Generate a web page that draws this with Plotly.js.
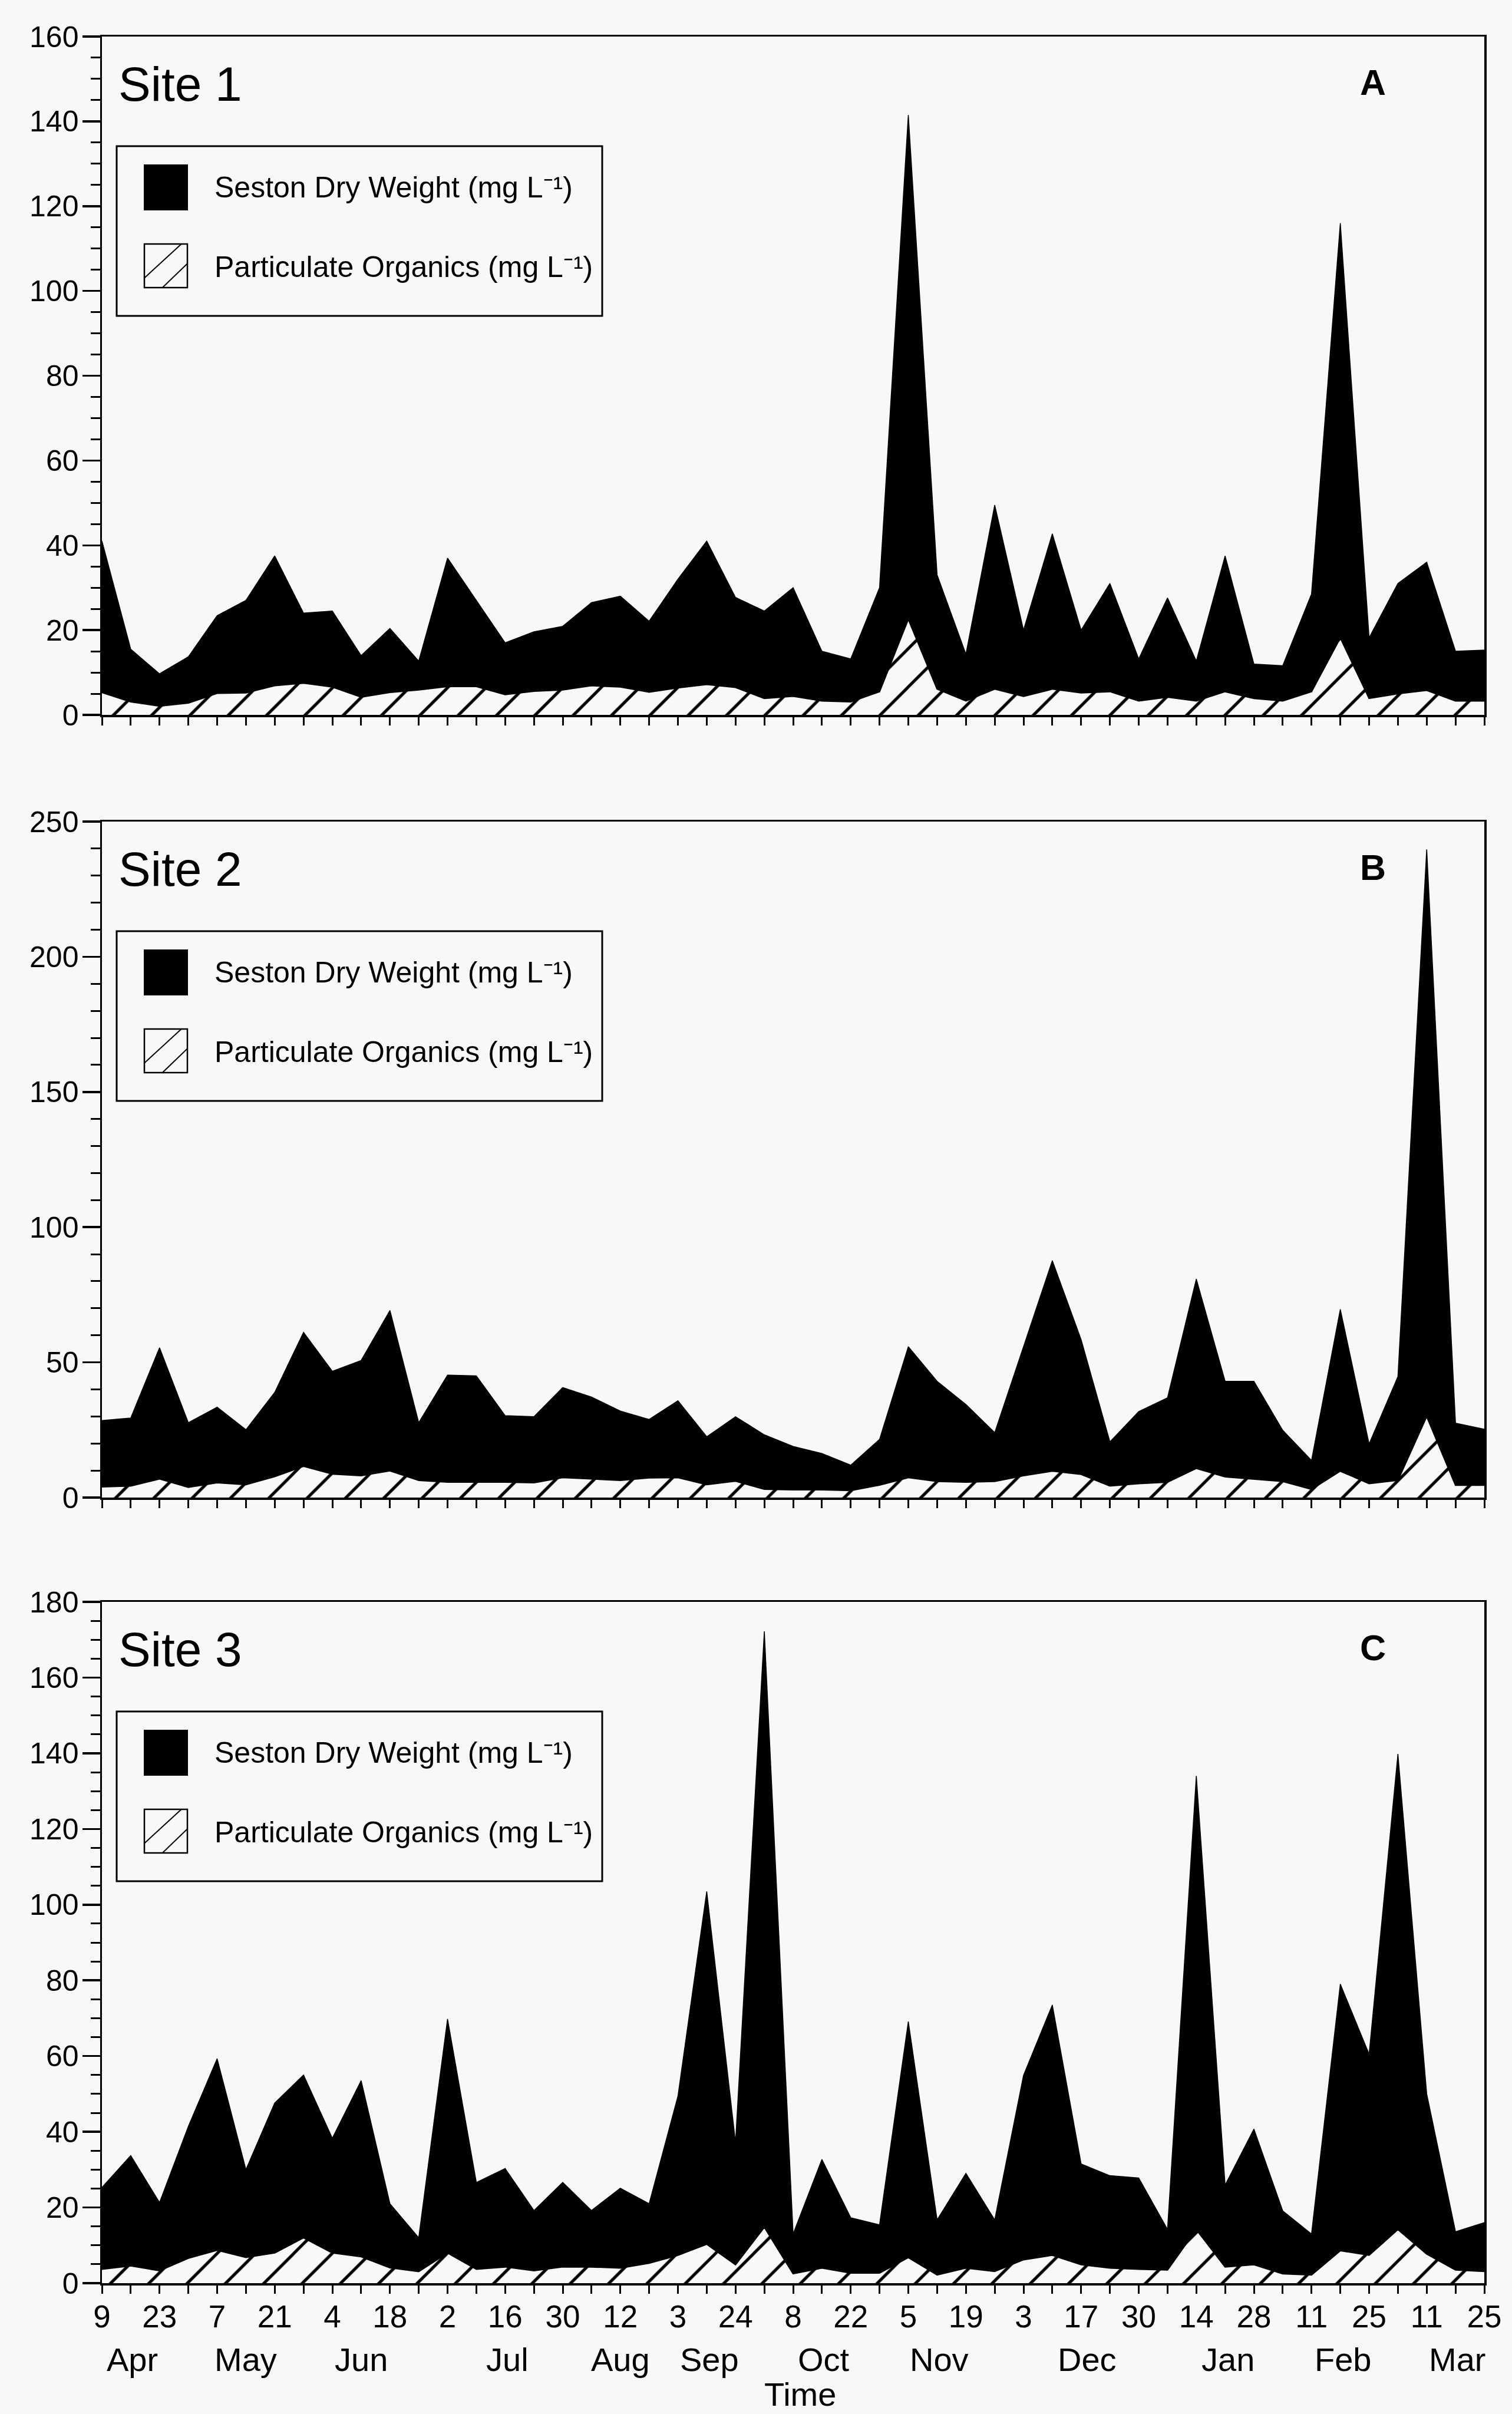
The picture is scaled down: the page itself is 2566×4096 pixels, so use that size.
<!DOCTYPE html>
<html>
<head>
<meta charset="utf-8">
<script src="https://cdn.plot.ly/plotly-3.0.1.min.js"></script>
<style>html,body{margin:0;padding:0;background:#f8f8f6;}</style>
</head>
<body>
<div id="chart" style="width:2566px;height:4096px;"></div>
<script>
// ---- data ----
const dayLabels = ['9','23','7','21','4','18','2','16','30','12','3','24','8','22','5','19','3','17','30','14','28','11','25','11','25'];
const monthLabels = ['Apr','May','Jun','Jul','Aug','Sep','Oct','Nov','Dec','Jan','Feb','Mar'];
const monthIdx = [1.05, 5.0, 9.0, 14.07, 18.0, 21.1, 25.07, 29.07, 34.2, 39.1, 43.1, 47.05];

const sestonSite1 = [41, 15.5, 9.7, 13.7, 23.4, 27, 37.5, 24, 24.5, 14, 20.4, 12.7, 37, 27, 17, 19.6, 20.9, 26.5, 28, 22.1, 32, 41, 27.7, 24.5, 30, 15, 13.2, 30, 141.5, 33, 14.3, 49.5, 20, 42.7, 20, 31, 13.2, 27.6, 12.7, 37.5, 12, 11.6, 28.5, 116, 18.2, 31, 36, 15, 15.3];
const organicsSite1 = [5.3, 3.1, 2.1, 2.8, 5.1, 5.2, 6.9, 7.5, 6.6, 4.2, 5.3, 5.9, 6.7, 6.7, 4.8, 5.6, 5.9, 6.9, 6.6, 5.4, 6.4, 7.2, 6.5, 3.9, 4.4, 3.3, 3.1, 5.5, 22.6, 6.1, 3.3, 6.1, 4.4, 6.1, 5.2, 5.5, 3.3, 4.2, 3.3, 5.5, 3.9, 3.3, 5.5, 18.2, 3.9, 5.0, 5.8, 3.3, 3.3];

const sestonSite2 = [28.5, 29.4, 55.4, 27.7, 33.4, 25.1, 38.9, 61.1, 46.7, 50.7, 69.2, 27.7, 45.3, 45, 30.3, 29.9, 40.7, 37.2, 32, 28.9, 35.8, 22.5, 29.9, 23.2, 18.9, 16.3, 12, 21.5, 55.8, 43, 34.4, 24, 55.8, 87.6, 58.4, 20.6, 31.8, 36.9, 80.8, 43, 43, 24.9, 13.7, 69.6, 19.8, 44.7, 239.7, 27.5, 25.3];
const organicsSite2 = [4, 4.3, 6.9, 3.8, 5.5, 4.8, 7.8, 11.6, 8.7, 8.1, 9.9, 6.4, 5.7, 5.7, 5.7, 5.5, 7.4, 6.9, 6.4, 7.3, 7.4, 4.8, 6.1, 3.1, 2.9, 2.9, 2.6, 4.6, 7.4, 6, 5.7, 6, 8.1, 9.8, 8.6, 4.3, 5.2, 5.7, 10.8, 7.7, 6.9, 6, 3.1, 9.8, 5.2, 6.4, 30, 4.6, 4.6];

const sestonSite3 = [25.3, 33.7, 21.3, 41.4, 59.3, 30, 47.6, 55, 38.3, 53.5, 21, 12, 69.8, 26.6, 30.3, 19.2, 26.6, 19.2, 25.1, 21, 49.4, 103.5, 37.1, 172.2, 13, 32.7, 17.3, 15.4, 69.1, 16.7, 29, 16.7, 54.9, 73.5, 31.5, 28.4, 27.8, 14.2, 134, 25.9, 40.7, 19.1, 13, 79, 60.5, 139.8, 50, 13.6, 16];
const organicsSite3 = [3.7, 4.6, 3.3, 6.6, 8.7, 6.8, 8, 12, 8, 7, 4.1, 3.1, 8, 3.7, 4.3, 3.3, 4.3, 4.3, 4, 5.3, 7.4, 10.3, 4.9, 14.8, 2.5, 4, 2.7, 2.7, 6.8, 2.2, 4, 3.1, 6.2, 7.4, 4.9, 4, 3.7, 3.5, 14.2, 4.3, 4.9, 2.5, 2.2, 8.6, 7.4, 14.2, 7.7, 3.5, 3.1];

const siteNames = ['Site 1', 'Site 2', 'Site 3'];
const panelLetters = ['A', 'B', 'C'];
const seriesNames = ['Seston Dry Weight (mg L\u207B\u00B9)', 'Particulate Organics (mg L\u207B\u00B9)'];
const yMax = [160, 250, 180];
const yMajor = [20, 50, 20];
const yMinor = [5, 10, 5];

// ---- layout geometry (pixels) ----
const W = 2566, H = 4096;
const BG = '#f8f8f6';
const FONT = '"Liberation Sans", Arial, Helvetica, sans-serif';
const plotLeft = 173, plotRight = 2519;
const panelTop = [62, 1394, 2718];
const panelBottom = [1213, 2541, 3874];
const px = v => v / W;
const py = v => 1 - v / H;

const sesAll = [sestonSite1, sestonSite2, sestonSite3];
const orgAll = [organicsSite1, organicsSite2, organicsSite3];
const idx = sestonSite1.map((_, i) => i);
const labelIdx = dayLabels.map((_, j) => 2 * j);

const traces = [];
const layout = {
  width: W, height: H,
  margin: {l: 0, r: 0, t: 0, b: 0},
  paper_bgcolor: BG, plot_bgcolor: BG,
  showlegend: false,
  font: {family: FONT, color: 'black'},
  shapes: [], annotations: []
};

for (let k = 0; k < 3; k++) {
  const sfx = k === 0 ? '' : String(k + 1);
  const xa = 'x' + sfx, ya = 'y' + sfx;
  traces.push({
    x: idx, y: sesAll[k], xaxis: xa, yaxis: ya, type: 'scatter', mode: 'lines',
    name: seriesNames[0], fill: 'tozeroy', fillcolor: 'black',
    line: {color: 'black', width: 1.5}, hoverinfo: 'x+y'
  });
  traces.push({
    x: idx, y: orgAll[k], xaxis: xa, yaxis: ya, type: 'scatter', mode: 'lines',
    name: seriesNames[1], fill: 'tozeroy', fillcolor: BG,
    fillpattern: {shape: '/', bgcolor: BG, fgcolor: 'black', size: 46, solidity: 0.11, fillmode: 'replace'},
    line: {color: 'black', width: 2.5}, hoverinfo: 'x+y'
  });

  layout['xaxis' + sfx] = {
    domain: [px(plotLeft), px(plotRight)], anchor: ya, range: [0, idx.length - 1],
    showline: true, linecolor: 'black', linewidth: 3.5, mirror: true,
    ticks: 'outside', ticklen: 14, tickwidth: 3, tickcolor: 'black',
    tickmode: 'array', tickvals: labelIdx, ticktext: dayLabels,
    minor: {ticks: 'outside', tickmode: 'linear', tick0: 0, dtick: 1, ticklen: 14, tickwidth: 3, tickcolor: 'black', showgrid: false},
    showticklabels: k === 2, tickfont: {family: FONT, size: 53, color: 'black'},
    ticklabelstandoff: -6,
    showgrid: false, zeroline: false, fixedrange: true
  };
  layout['yaxis' + sfx] = {
    domain: [py(panelBottom[k]), py(panelTop[k])], anchor: xa, range: [0, yMax[k]],
    showline: true, linecolor: 'black', linewidth: 3.5, mirror: true,
    ticks: 'outside', ticklen: 30, tickwidth: 3.5, tickcolor: 'black',
    tick0: 0, dtick: yMajor[k],
    minor: {ticks: 'outside', dtick: yMinor[k], tick0: 0, ticklen: 16, tickwidth: 3, tickcolor: 'black', showgrid: false},
    tickfont: {family: FONT, size: 50, color: 'black'},
    ticklabelstandoff: -4,
    showgrid: false, zeroline: false, fixedrange: true
  };

  const T = panelTop[k];
  // site title and panel letter
  layout.annotations.push({
    xref: 'paper', yref: 'paper', x: px(199), y: py(T + 80), xanchor: 'left', yanchor: 'middle',
    text: siteNames[k], showarrow: false, font: {family: FONT, size: 82, color: 'black'}
  });
  layout.annotations.push({
    xref: 'paper', yref: 'paper', x: px(2330), y: py(T + 78), xanchor: 'center', yanchor: 'middle',
    text: '<b>' + panelLetters[k] + '</b>', showarrow: false, font: {family: FONT, size: 61, color: 'black'}
  });
  // legend box
  layout.shapes.push({type: 'rect', xref: 'paper', yref: 'paper',
    x0: px(198), x1: px(1022), y0: py(T + 474), y1: py(T + 186),
    line: {color: 'black', width: 3}, fillcolor: 'rgba(0,0,0,0)', layer: 'above'});
  // black swatch
  layout.shapes.push({type: 'rect', xref: 'paper', yref: 'paper',
    x0: px(245), x1: px(318), y0: py(T + 294), y1: py(T + 218),
    line: {color: 'black', width: 2}, fillcolor: 'black', layer: 'above'});
  // hatched swatch
  const hx0 = 245, hx1 = 318, hy0 = T + 352, hy1 = T + 426;
  layout.shapes.push({type: 'rect', xref: 'paper', yref: 'paper',
    x0: px(hx0), x1: px(hx1), y0: py(hy1), y1: py(hy0),
    line: {color: 'black', width: 2.5}, fillcolor: BG, layer: 'above'});
  layout.shapes.push({type: 'line', xref: 'paper', yref: 'paper',
    x0: px(hx0), y0: py(hy0 + 0.78 * (hy1 - hy0)), x1: px(hx0 + 0.86 * (hx1 - hx0)), y1: py(hy0),
    line: {color: 'black', width: 2}, layer: 'above'});
  layout.shapes.push({type: 'line', xref: 'paper', yref: 'paper',
    x0: px(hx0 + 0.42 * (hx1 - hx0)), y0: py(hy1), x1: px(hx1), y1: py(hy0 + 0.45 * (hy1 - hy0)),
    line: {color: 'black', width: 2}, layer: 'above'});
  // legend texts
  layout.annotations.push({
    xref: 'paper', yref: 'paper', x: px(362), y: py(T + 256), xanchor: 'left', yanchor: 'middle',
    text: seriesNames[0], showarrow: false, font: {family: FONT, size: 50, color: 'black'}
  });
  layout.annotations.push({
    xref: 'paper', yref: 'paper', x: px(362), y: py(T + 391), xanchor: 'left', yanchor: 'middle',
    text: seriesNames[1], showarrow: false, font: {family: FONT, size: 50, color: 'black'}
  });
}

// month labels under the bottom axis
monthLabels.forEach((m, i) => {
  layout.annotations.push({
    xref: 'x3', yref: 'paper', x: monthIdx[i], y: py(4003), xanchor: 'center', yanchor: 'middle',
    text: m, showarrow: false, font: {family: FONT, size: 56, color: 'black'}
  });
});
layout.annotations.push({
  xref: 'paper', yref: 'paper', x: px(1358), y: py(4062), xanchor: 'center', yanchor: 'middle',
  text: 'Time', showarrow: false, font: {family: FONT, size: 56, color: 'black'}
});

Plotly.newPlot('chart', traces, layout, {staticPlot: true, displayModeBar: false});
</script>
</body>
</html>
